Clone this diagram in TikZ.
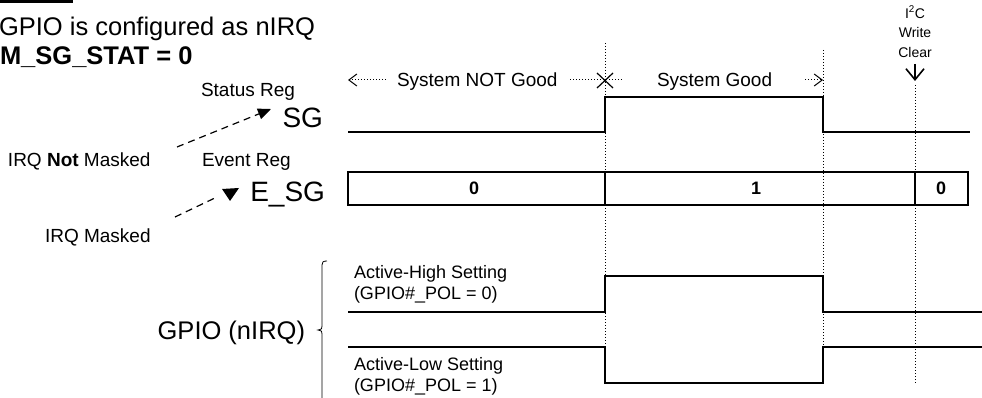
\documentclass[tikz,border=0pt]{standalone}
\usepackage{fontspec}
\setmainfont{Liberation Sans}
\usetikzlibrary{arrows.meta}
\pgfdeclarelayer{bg}
\pgfsetlayers{bg,main}
\tikzset{
    every node/.style={inner sep=0pt, outer sep=0pt},
    sig/.style={line width=2.2pt, line join=miter},
    regbox/.style={line width=1.8pt},
    grid/.style={line width=1pt, dash pattern=on 1pt off 2pt},
    mask/.style={line width=1.2pt, dash pattern=on 7pt off 5pt},
    tA/.style={font=\fontsize{25.5}{28}\selectfont},
    tB/.style={font=\fontsize{28}{32}\selectfont},
    tC/.style={font=\fontsize{19}{22}\selectfont},
    tD/.style={font=\fontsize{18}{21}\selectfont},
    tE/.style={font=\fontsize{14}{19.5}\selectfont}
}

\begin{document}
\begin{tikzpicture}[x=1pt, y=-1pt]
  \useasboundingbox (0,0) rectangle (982,398);

  % heading
  \fill (0,0) rectangle (73,3);
  \node (hd1) [tA, anchor=base west] at (-1,36) {GPIO is configured as nIRQ};
  \node (hd2) [tA, anchor=base west] at (0,65) {\bfseries M\_SG\_STAT = 0};

  % register labels
  \node (streg) [tC, anchor=base west] at (201,97) {Status Reg};
  \node (sg) [tB, anchor=base east] at (323,128) {SG};
  \node (evreg) [tC, anchor=base west] at (202,167) {Event Reg};
  \node (esg) [tB, anchor=base east] at (325,202) {E\_SG};
  \node (nmask) [tC, anchor=base west] at (8,167) {IRQ \textbf{Not} Masked};
  \node (ymask) [tC, anchor=base west] at (45,242) {IRQ Masked};
  \node (gpio) [tA, anchor=base east] at (305,339) {GPIO (nIRQ)};

  \coordinate (n0) at (177,147);
  \coordinate (n1) at (271,109);
  \coordinate (m0) at (175,217);
  \coordinate (m1) at (217,197);
  \draw[mask, -{Triangle[length=13pt, width=11pt]}] (n0) -- (n1);
  \draw[mask] (m0) -- (m1);
  \fill (222,189) -- (239,188) -- (230,201) -- cycle;

  % brace
  \draw[line width=0.8pt] (327,261) .. controls (323,261) and (322,262) .. (322,265)
    -- (322,326) .. controls (322,329) .. (318,330) .. controls (322,331) .. (322,334)
    -- (322,398);

  % time markers
  \begin{pgfonlayer}{bg}
    \draw[grid] (605,43) -- (605,347);
    \draw[grid] (823,50) -- (823,347);
    \draw[grid] (915,85) -- (915,384);
  \end{pgfonlayer}

  \node (bad) [tC, anchor=base west] at (397,87) {System NOT Good};
  \node (good) [tC, anchor=base west] at (657,87) {System Good};
  \draw[grid, {Straight Barb[length=8pt, width=12pt, line width=1pt]}-] (348,80) -- (386,80);
  \draw[grid] (570,80) -- (622,80);
  \draw[line width=1.2pt] (597,73) -- (613,88) (597,88) -- (613,73);
  \draw[grid, -{Straight Barb[length=8pt, width=12pt, line width=1pt]}] (805,80) -- (823,80);

  \node (clr) [tE, align=center, anchor=north] at (915,6) {I\textsuperscript{2}C\\Write\\Clear};
  \draw[line width=1.6pt, -{Straight Barb[length=11pt, width=18pt, line width=1.6pt]}] (915,64) -- (915,81);

  % signals
  \draw[sig] (348,132) -- (605,132) -- (605,97) -- (823,97) -- (823,132) -- (970,132);
  \draw[regbox] (348,172) rectangle (968,205);
  \draw[regbox] (605,172) -- (605,205) (915,172) -- (915,205);
  \node (b0) [tD] at (474,188) {\bfseries 0};
  \node (b1) [tD] at (756,188) {\bfseries 1};
  \node (b2) [tD] at (941,188) {\bfseries 0};

  \draw[sig] (348,312) -- (605,312) -- (605,276) -- (823,276) -- (823,312) -- (982,312);
  \draw[sig] (348,347) -- (605,347) -- (605,383) -- (823,383) -- (823,347) -- (982,347);
  \node (hi) [tD, anchor=base west, align=left] at (354,299) {Active-High Setting\\(GPIO\#\_POL = 0)};
  \node (lo) [tD, anchor=base west, align=left] at (354,391) {Active-Low Setting\\(GPIO\#\_POL = 1)};

\end{tikzpicture}
\end{document}
